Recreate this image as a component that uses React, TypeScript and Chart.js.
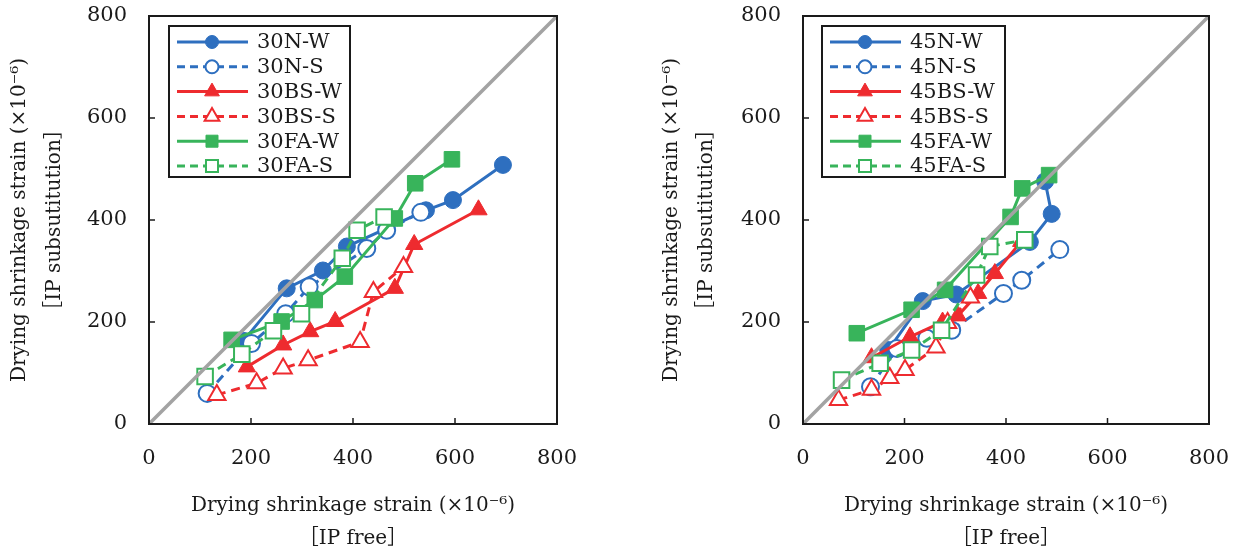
import React, { useEffect, useRef } from 'react';
import { Chart, registerables } from 'chart.js';
Chart.register(...registerables);

// ---------- data ----------
const axisTicks = [0, 200, 400, 600, 800];
const diagX = [0, 800];
const diagY = [0, 800];

// Left panel (30 series)
const n30W_x = [185, 270, 341, 388, 543, 596, 694];
const n30W_y = [163, 266, 301, 348, 419, 439, 508];
const n30S_x = [114, 201, 268, 314, 427, 466, 533];
const n30S_y = [60, 158, 216, 269, 344, 380, 415];
const bs30W_x = [192, 263, 316, 365, 482, 520, 646];
const bs30W_y = [112, 155, 181, 201, 266, 352, 420];
const bs30S_x = [133, 211, 263, 312, 414, 440, 499];
const bs30S_y = [57, 80, 109, 125, 161, 259, 308];
const fa30W_x = [162, 260, 325, 384, 482, 522, 594];
const fa30W_y = [165, 201, 243, 289, 403, 472, 519];
const fa30S_x = [110, 182, 244, 299, 379, 408, 461];
const fa30S_y = [93, 137, 183, 216, 325, 380, 406];

// Right panel (45 series)
const n45W_x = [168, 236, 302, 447, 490, 477];
const n45W_y = [145, 241, 254, 357, 412, 476];
const n45S_x = [133, 185, 244, 293, 395, 431, 506];
const n45S_y = [73, 148, 168, 184, 256, 282, 342];
const bs45W_x = [135, 211, 275, 305, 345, 378, 430];
const bs45W_y = [130, 171, 200, 212, 256, 295, 358];
const bs45S_x = [70, 135, 171, 201, 262, 285, 330];
const bs45S_y = [47, 67, 90, 106, 150, 198, 248];
const fa45W_x = [106, 214, 280, 409, 432, 485];
const fa45W_y = [178, 224, 263, 406, 462, 488];
const fa45S_x = [76, 152, 214, 273, 342, 368, 437];
const fa45S_y = [86, 119, 145, 184, 292, 348, 361];

const labels30 = ['30N-W', '30N-S', '30BS-W', '30BS-S', '30FA-W', '30FA-S'];
const labels45 = ['45N-W', '45N-S', '45BS-W', '45BS-S', '45FA-W', '45FA-S'];

const xTitle = ['Drying shrinkage strain (×10⁻⁶)', '［IP free］'];
const yTitle = ['Drying shrinkage strain (×10⁻⁶)', '［IP subsutitution］'];

// ---------- styles ----------
const BLUE = '#2e6fbf';
const RED = '#ee2b2f';
const GREEN = '#38b45b';
const GRAY = '#a3a3a3';
const INK = '#1a1a1a';
const FONT = '"DejaVu Serif", "Liberation Serif", "Noto Sans CJK JP", serif';

type Spec = { label: string; xs: number[]; ys: number[]; color: string; style: string; filled: boolean };

const RADIUS: Record<string, number> = { circle: 8.5, triangle: 10, rect: 11 };
const LRADIUS: Record<string, number> = { circle: 6.5, triangle: 8.5, rect: 8.5 };

function buildSpecs(labels: string[], d: number[][]): Spec[] {
  const colors = [BLUE, BLUE, RED, RED, GREEN, GREEN];
  const styles = ['circle', 'circle', 'triangle', 'triangle', 'rect', 'rect'];
  return labels.map((label, i) => ({
    label,
    xs: d[i * 2],
    ys: d[i * 2 + 1],
    color: colors[i],
    style: styles[i],
    filled: i % 2 === 0,
  }));
}

function toDataset(s: Spec, i: number) {
  return {
    label: s.label,
    data: s.xs.map((x, k) => ({ x, y: s.ys[k] })),
    showLine: true,
    borderColor: s.color,
    backgroundColor: s.color,
    borderWidth: 3,
    borderDash: s.filled ? [] : [9, 6],
    pointStyle: s.style,
    pointRadius: RADIUS[s.style],
    pointHoverRadius: RADIUS[s.style],
    pointBackgroundColor: s.filled ? s.color : '#ffffff',
    pointBorderColor: s.color,
    pointBorderWidth: s.filled ? 1 : 2,
    tension: 0,
    order: -i,
  };
}

function drawMarker(ctx: CanvasRenderingContext2D, style: string, x: number, y: number, r: number, color: string, filled: boolean) {
  ctx.beginPath();
  if (style === 'circle') {
    ctx.arc(x, y, r, 0, Math.PI * 2);
  } else if (style === 'triangle') {
    const a = (2 * Math.PI) / 3;
    ctx.moveTo(x, y - r);
    ctx.lineTo(x + r * Math.sin(a), y - r * Math.cos(a));
    ctx.lineTo(x + r * Math.sin(2 * a), y - r * Math.cos(2 * a));
  } else {
    const s = r * Math.SQRT1_2;
    ctx.rect(x - s, y - s, 2 * s, 2 * s);
  }
  ctx.closePath();
  ctx.setLineDash([]);
  ctx.fillStyle = filled ? color : '#ffffff';
  ctx.fill();
  ctx.lineWidth = filled ? 1 : 2;
  ctx.strokeStyle = color;
  ctx.stroke();
}

type PanelProps = { specs: Spec[]; left: number; yAxisWidth: number; rightPad: number; yTitlePad: number; legendOffX: number; legendW: number };

function Panel({ specs, left, yAxisWidth, rightPad, yTitlePad, legendOffX, legendW }: PanelProps) {
  const ref = useRef<HTMLCanvasElement | null>(null);
  useEffect(() => {
    if (!ref.current) return;
    const framePlugin = {
      id: 'frameTicks',
      afterDatasetsDraw(chart: any) {
        const { ctx, chartArea: a, scales } = chart;
        ctx.save();
        ctx.strokeStyle = INK;
        ctx.lineWidth = 2;
        ctx.setLineDash([]);
        ctx.strokeRect(a.left, a.top, a.right - a.left, a.bottom - a.top);
        ctx.lineWidth = 1.5;
        axisTicks.slice(1, -1).forEach((v) => {
          const px = scales.x.getPixelForValue(v);
          ctx.beginPath();
          ctx.moveTo(px, a.bottom);
          ctx.lineTo(px, a.bottom - 6);
          ctx.stroke();
          const py = scales.y.getPixelForValue(v);
          ctx.beginPath();
          ctx.moveTo(a.left, py);
          ctx.lineTo(a.left + 6, py);
          ctx.stroke();
        });
        ctx.restore();
      },
    };
    const legendPlugin = {
      id: 'boxLegend',
      afterDatasetsDraw(chart: any) {
        const { ctx, chartArea: a } = chart;
        const x0 = a.left + legendOffX;
        const y0 = a.top + 10;
        const h = 151;
        ctx.save();
        ctx.fillStyle = '#ffffff';
        ctx.fillRect(x0, y0, legendW, h);
        ctx.strokeStyle = INK;
        ctx.lineWidth = 2;
        ctx.setLineDash([]);
        ctx.strokeRect(x0, y0, legendW, h);
        specs.forEach((s, i) => {
          const cy = y0 + 16 + i * 24.8;
          ctx.beginPath();
          ctx.setLineDash(s.filled ? [] : [8, 5]);
          ctx.strokeStyle = s.color;
          ctx.lineWidth = 3;
          ctx.moveTo(x0 + 8, cy);
          ctx.lineTo(x0 + 79, cy);
          ctx.stroke();
          drawMarker(ctx, s.style, x0 + 43, cy, LRADIUS[s.style], s.color, s.filled);
          ctx.fillStyle = INK;
          ctx.font = `21px ${FONT}`;
          ctx.textBaseline = 'middle';
          ctx.textAlign = 'left';
          ctx.fillText(s.label, x0 + 88, cy + 1);
        });
        ctx.restore();
      },
    };
    const datasets: any[] = specs.map(toDataset);
    datasets.push({
      label: 'diag',
      data: diagX.map((x, k) => ({ x, y: diagY[k] })),
      showLine: true,
      borderColor: GRAY,
      borderWidth: 3.5,
      pointRadius: 0,
      order: -100,
    });
    const chart = new Chart(ref.current, {
      type: 'scatter',
      data: { datasets },
      options: {
        animation: false,
        responsive: false,
        devicePixelRatio: 1,
        layout: { padding: { top: 16, right: rightPad, left: 0, bottom: 0 } },
        plugins: { legend: { display: false }, tooltip: { enabled: false } },
        scales: {
          x: {
            type: 'linear',
            min: 0,
            max: 800,
            afterBuildTicks: (sc: any) => { sc.ticks = axisTicks.map((v) => ({ value: v })); },
            afterFit: (sc: any) => {
              sc.height = 131;
              sc.paddingLeft = 0;
              sc.paddingRight = 0;
              sc.paddingTop = 0;
              sc.paddingBottom = 0;
            },
            grid: { display: false, drawTicks: false },
            border: { display: false },
            ticks: { padding: 22, maxRotation: 0, color: INK, font: { family: FONT, size: 21 } },
            title: {
              display: true,
              text: xTitle,
              color: INK,
              font: { family: FONT, size: 20, lineHeight: 1.65 },
              padding: { top: 0, bottom: 0 },
            },
          },
          y: {
            type: 'linear',
            min: 0,
            max: 800,
            afterBuildTicks: (sc: any) => { sc.ticks = axisTicks.map((v) => ({ value: v })); },
            afterFit: (sc: any) => {
              sc.width = yAxisWidth;
              sc.paddingTop = 0;
              sc.paddingBottom = 0;
              sc.paddingLeft = 0;
              sc.paddingRight = 0;
            },
            grid: { display: false, drawTicks: false },
            border: { display: false },
            ticks: { padding: 22, color: INK, font: { family: FONT, size: 21 } },
            title: {
              display: true,
              text: yTitle,
              color: INK,
              font: { family: FONT, size: 20, lineHeight: 1.75 },
              padding: { top: yTitlePad, bottom: 0 },
            },
          },
        },
      } as any,
      plugins: [framePlugin, legendPlugin],
    });
    return () => chart.destroy();
  }, []);
  return (
    <canvas
      ref={ref}
      width={618}
      height={555}
      style={{ position: 'absolute', left, top: 0, width: 618, height: 555 }}
    />
  );
}

export default function App() {
  const specs30 = buildSpecs(labels30, [n30W_x, n30W_y, n30S_x, n30S_y, bs30W_x, bs30W_y, bs30S_x, bs30S_y, fa30W_x, fa30W_y, fa30S_x, fa30S_y]);
  const specs45 = buildSpecs(labels45, [n45W_x, n45W_y, n45S_x, n45S_y, bs45W_x, bs45W_y, bs45S_x, bs45S_y, fa45W_x, fa45W_y, fa45S_x, fa45S_y]);
  return (
    <div style={{ position: 'fixed', left: 0, top: 0, width: 1236, height: 549, overflow: 'hidden', background: '#ffffff' }}>
      <Panel specs={specs30} left={0} yAxisWidth={149} rightPad={61} yTitlePad={2} legendOffX={20} legendW={181} />
      <Panel specs={specs45} left={618} yAxisWidth={185} rightPad={27} yTitlePad={36} legendOffX={19} legendW={183} />
    </div>
  );
}
